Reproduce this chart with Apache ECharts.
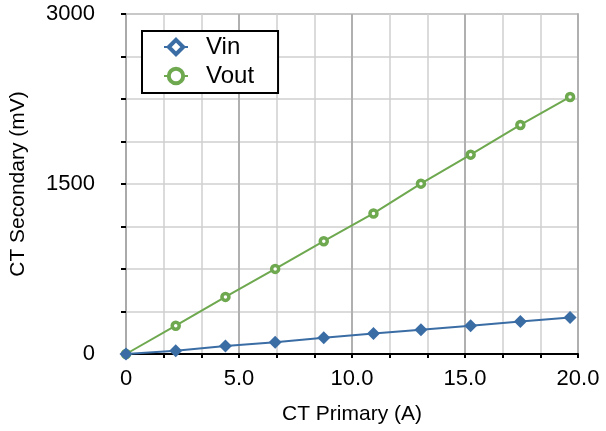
<!DOCTYPE html>
<html><head><meta charset="utf-8">
<script src="https://cdn.jsdelivr.net/npm/echarts@6/dist/echarts.min.js"></script>
<style>html,body{margin:0;padding:0;background:#fff}#c{width:606px;height:431px}</style>
</head><body><div id="c"></div>
<script>
var primaryA = [0, 2.2, 4.4, 6.6, 8.75, 10.95, 13.05, 15.25, 17.45, 19.65];
var vinMV = [0, 29, 71, 103, 144, 180, 215, 250, 286, 323];
var voutMV = [0, 250, 504, 751, 995, 1240, 1503, 1759, 2021, 2268];
var xTicks = [0, 5, 10, 15, 20];
var yTicks = [0, 1500, 3000];

function pairs(xs, ys){ return xs.map(function(x,i){ return [x, ys[i]]; }); }
var font = 'Liberation Sans, Arial, Helvetica, sans-serif';
var blue = '#3b6da5', green = '#6ea84f';
var chart = echarts.init(document.getElementById('c'), null, {renderer:'canvas'});
chart.setOption({
  animation:false,
  backgroundColor:'#fff',
  grid:{left:126, right:28, top:14, bottom:77, show:false},
  legend:{
    left:142, top:31, orient:'vertical',
    padding:[4,24,5,21],
    borderColor:'#000', borderWidth:2, backgroundColor:'#fff',
    itemWidth:24, itemHeight:18, itemGap:5,
    textStyle:{fontFamily:font, fontSize:24, color:'#000', padding:[0,0,0,13]},
    data:[
      {name:'Vin', itemStyle:{color:'#fff', borderColor:blue, borderWidth:4}},
      {name:'Vout', itemStyle:{color:'#fff', borderColor:green, borderWidth:4}}
    ]
  },
  xAxis:{
    type:'value', min:0, max:20, interval:5,
    name:'CT Primary (A)', nameLocation:'middle', nameGap:50,
    nameTextStyle:{fontFamily:font, fontSize:21, color:'#000'},
    axisLine:{show:true, onZero:false, lineStyle:{color:'#000', width:2}},
    axisTick:{show:true, length:4, lineStyle:{color:'#000', width:2}},
    minorTick:{show:true, splitNumber:3, length:4, lineStyle:{color:'#000', width:2}},
    axisLabel:{fontFamily:font, fontSize:22, color:'#000', margin:14,
      formatter:function(v){ return xTicks.indexOf(v)>=0 ? (v===0?'0':v.toFixed(1)) : ''; }},
    splitLine:{show:true, lineStyle:{color:'#b0b0b0', width:2}},
    minorSplitLine:{show:true, lineStyle:{color:'#d0d0d0', width:1.5}}
  },
  yAxis:[{
    type:'value', min:0, max:3000, interval:1500,
    name:'CT Secondary (mV)', nameLocation:'middle', nameGap:97,
    nameTextStyle:{fontFamily:font, fontSize:21, color:'#000'},
    axisLine:{show:true, lineStyle:{color:'#aaaaaa', width:2}},
    axisTick:{show:true, length:5, lineStyle:{color:'#000', width:2}},
    minorTick:{show:true, splitNumber:4, length:5, lineStyle:{color:'#000', width:2}},
    axisLabel:{fontFamily:font, fontSize:22, color:'#000', margin:31,
      formatter:function(v){ return yTicks.indexOf(v)>=0 ? String(v) : ''; }},
    splitLine:{show:true, lineStyle:{color:'#d0d0d0', width:1.5}},
    minorSplitLine:{show:true, lineStyle:{color:'#d0d0d0', width:1.5}}
  },{
    type:'value', min:0, max:3000, interval:1500, position:'right',
    axisLine:{show:true, lineStyle:{color:'#b0b0b0', width:2}},
    axisTick:{show:false}, axisLabel:{show:false}, splitLine:{show:false}
  }],
  series:[{
    name:'Vin', type:'line', data:pairs(primaryA, vinMV),
    symbol:'diamond', symbolSize:13, showAllSymbol:true,
    lineStyle:{color:blue, width:2},
    itemStyle:{color:blue}, z:3
  },{
    name:'Vout', type:'line', data:pairs(primaryA, voutMV),
    symbol:'circle', symbolSize:7, showAllSymbol:true,
    lineStyle:{color:green, width:2},
    itemStyle:{color:'#fff', borderColor:green, borderWidth:3.5}, z:2
  }],
  graphic:[{type:'line', shape:{x1:126,y1:14,x2:578,y2:14}, style:{stroke:'#b0b0b0', lineWidth:2}, z:-1}]
});
</script></body></html>
